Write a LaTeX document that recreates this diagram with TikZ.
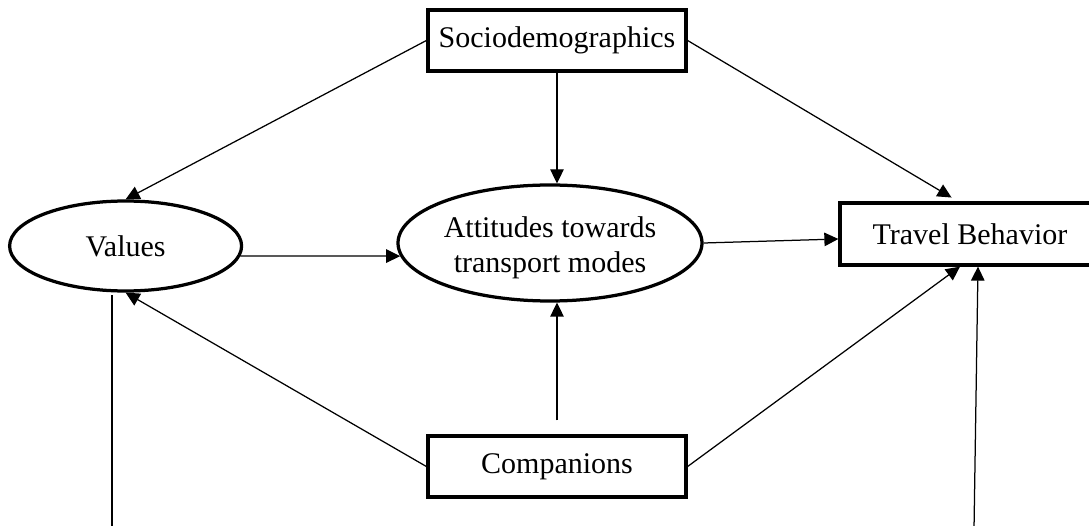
\documentclass[tikz,border=0pt]{standalone}
\usepackage{fontspec}
\setmainfont{Liberation Serif}
\usetikzlibrary{shapes.geometric,arrows.meta,calc}
\tikzset{box/.style = {draw, line width=1.3pt, minimum width=103.2pt, minimum height=24.4pt, inner sep=0pt},
    oval/.style = {draw, ellipse, line width=1.3pt, inner sep=0pt},
    conn/.style = {line width=0.5pt},
    arr/.style = {conn, -{Triangle[length=5.6pt, width=5.4pt]}}}

\begin{document}
\begin{tikzpicture}[x=0.4pt, y=-0.4pt, font=\fontsize{12}{14}\selectfont]
    \clip (0,0) rectangle (1089,526);

    \node[box](socio)at(557,40.5){Sociodemographics};
    \node[oval, minimum width=92.8pt, minimum height=36pt](values)at(125.6,246){Values};
    \node[oval, minimum width=121.6pt, minimum height=46.4pt,
        label={[align=center, yshift=-2pt]center:Attitudes towards\\transport modes}](att)at(550,243){};
    \node[box, minimum width=104pt, minimum height=24.8pt](travel)at(970,234){Travel Behavior};
    \node[box](comp)at(557,466.5){Companions};

        \coordinate(lbot)at(112,530);
        \coordinate(ltop)at(112,295);
        \coordinate(rbot)at(974,530);

        \draw[arr](socio.west)--(values.north);
        \draw[arr](socio.south)--(socio.south |- att.north);
        \draw[arr, shorten >=3pt](socio.east)--($(travel.north)+(-12,0)$);
        \draw[arr](values.-5)--(att.185);
        \draw[arr](att.east)--($(travel.west)+(0,5)$);

        \draw[arr](comp.west)--(values.south);
        \draw[arr, shorten <=5.6pt](comp.north)--(comp.north |- att.south);
        \draw[arr](comp.east)--($(travel.south)+(-10,0)$);

        \draw[conn](lbot)--(ltop);
        \draw[arr](rbot)--($(travel.south)+(8,0)$);
\end{tikzpicture}
\end{document}
